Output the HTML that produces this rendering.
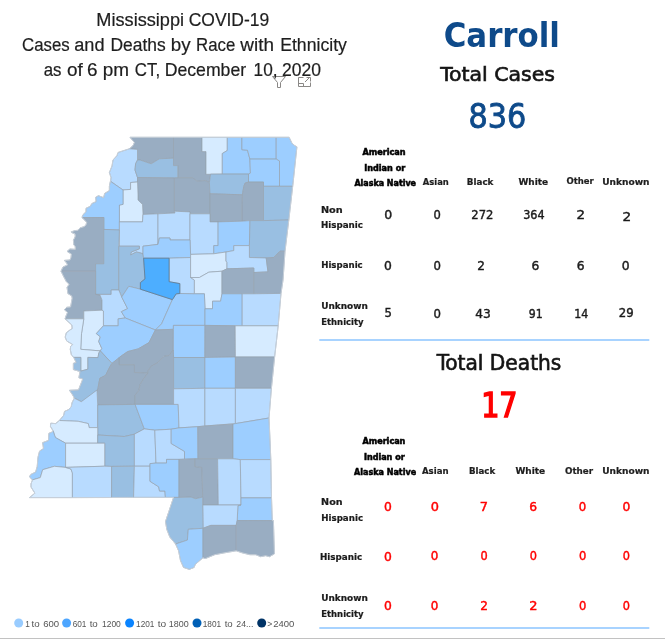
<!DOCTYPE html>
<html><head><meta charset="utf-8"><title>Mississippi COVID-19 Cases and Deaths by Race with Ethnicity</title>
<style>
html,body{margin:0;padding:0;background:#fff;}
body{width:665px;height:639px;overflow:hidden;}
svg{display:block;}
</style></head>
<body>
<svg width="665" height="639" viewBox="0 0 665 639">
<rect width="665" height="639" fill="#fff"/>
<g stroke="#97A3B0" stroke-width="0.7" stroke-linejoin="round">
<path d="M130.0 137.3 L173.5 137.3 L173.5 158.2 L159.4 158.8 L151.2 163.8 L140.0 160.0 L137.5 160.0 L137.5 149.4 L129.4 148.8 L133.0 145.6 L134.4 142.5 Z" fill="#99ADC2"/>
<path d="M173.5 137.3 L202.0 137.3 L202.0 151.6 L206.0 151.6 L206.0 174.3 L210.6 174.1 L209.4 182.5 L205.0 180.6 L197.0 181.3 L192.6 177.8 L177.8 177.8 L177.8 165.6 L173.5 165.6 L173.5 158.2 Z" fill="#99ADC2"/>
<path d="M202.0 137.3 L227.3 137.3 L227.3 150.5 L222.3 153.5 L222.3 174.1 L206.0 174.3 L206.0 151.6 L202.0 151.6 Z" fill="#D6EBFF"/>
<path d="M227.3 137.3 L241.9 137.3 L241.9 149.7 L247.5 150.2 L249.9 159.1 L250.4 173.2 L248.5 174.1 L222.3 174.1 L222.3 153.5 L227.3 150.5 Z" fill="#9DCEFF"/>
<path d="M241.9 137.3 L276.2 137.3 L276.2 159.1 L249.9 159.1 L247.5 150.2 L241.9 149.7 Z" fill="#9DCEFF"/>
<path d="M276.2 137.3 L289.1 137.3 L290.7 140.6 L291.9 143.1 L293.8 145.0 L296.9 146.9 L292.7 186.3 L279.5 186.3 L279.5 161.0 L276.2 159.1 Z" fill="#9DCEFF"/>
<path d="M249.9 159.1 L276.2 159.1 L279.5 161.0 L279.5 186.3 L263.5 186.3 L263.5 182.1 L248.5 182.1 L248.5 174.1 L250.4 173.2 Z" fill="#9DCEFF"/>
<path d="M118.0 152.5 L123.8 150.6 L129.4 148.8 L137.5 149.4 L137.5 160.0 L135.6 163.8 L135.0 170.0 L137.5 177.5 L137.5 182.0 L130.6 182.5 L130.6 189.4 L123.0 190.0 L110.6 181.2 L111.0 177.5 L109.4 172.5 L112.0 166.0 L113.0 160.0 L117.0 155.6 Z" fill="#B8DBFF"/>
<path d="M137.5 160.0 L140.0 160.0 L151.2 163.8 L159.4 158.8 L173.5 158.2 L173.5 165.6 L177.8 165.6 L177.8 177.8 L174.4 178.0 L137.5 177.5 L135.0 170.0 L135.6 163.8 Z" fill="#99BFE2"/>
<path d="M137.5 177.5 L174.4 178.0 L174.4 211.2 L175.0 213.0 L158.0 213.8 L143.0 214.4 L142.5 204.4 L138.0 200.0 L138.0 195.0 L137.5 182.0 Z" fill="#99ADC2"/>
<path d="M174.4 178.0 L177.8 177.8 L192.6 177.8 L197.0 181.3 L205.0 180.6 L209.4 182.5 L210.0 193.8 L210.0 213.8 L190.0 213.8 L190.0 211.9 L174.4 211.2 Z" fill="#99ADC2"/>
<path d="M210.6 174.1 L248.5 174.1 L248.5 182.1 L245.2 183.0 L243.8 186.3 L242.4 194.8 L210.0 193.8 L209.4 182.5 Z" fill="#99BFE2"/>
<path d="M245.2 183.0 L248.5 182.1 L263.5 182.1 L263.5 186.3 L263.5 220.6 L250.0 220.6 L241.9 221.2 L241.9 205.0 L242.4 194.8 L243.8 186.3 Z" fill="#99ADC2"/>
<path d="M263.5 186.3 L279.5 186.3 L292.7 186.3 L288.8 220.0 L263.5 220.6 Z" fill="#99BFE2"/>
<path d="M210.0 193.8 L242.4 194.8 L241.9 205.0 L241.9 221.2 L218.1 221.9 L210.0 221.9 L210.0 213.8 Z" fill="#99ADC2"/>
<path d="M123.0 190.0 L130.6 189.4 L130.6 182.5 L137.5 182.0 L138.0 195.0 L138.0 200.0 L142.5 204.4 L143.0 214.4 L142.5 221.9 L119.4 221.9 L119.4 205.0 L123.0 204.4 Z" fill="#D6EBFF"/>
<path d="M110.4 181.3 L123.0 190.0 L123.0 204.4 L119.4 205.0 L119.4 230.0 L103.8 229.4 L103.8 217.5 L82.0 217.6 L82.8 214.9 L86.0 211.8 L86.0 208.3 L90.3 206.3 L91.8 203.6 L96.1 201.6 L95.7 197.3 L98.5 195.7 L103.6 197.7 L104.7 193.4 L109.4 190.6 L109.4 186.0 Z" fill="#9DCEFF"/>
<path d="M119.4 221.9 L142.5 221.9 L143.0 214.4 L158.0 213.8 L158.0 244.4 L143.0 246.2 L143.0 253.8 L138.8 252.5 L136.2 252.0 L130.6 255.0 L131.2 252.0 L139.4 248.8 L139.4 246.2 L119.4 246.2 Z" fill="#B8DBFF"/>
<path d="M158.0 213.8 L175.0 213.0 L174.4 211.2 L190.0 211.9 L190.0 213.8 L190.0 240.0 L170.0 240.0 L170.0 238.0 L159.4 238.0 L158.0 244.4 Z" fill="#B8DBFF"/>
<path d="M190.0 213.8 L210.0 213.8 L210.0 221.9 L218.1 221.9 L218.1 245.6 L213.8 245.6 L213.8 253.8 L190.6 254.4 L190.0 240.0 Z" fill="#B8DBFF"/>
<path d="M218.1 221.9 L241.9 221.2 L250.0 220.6 L249.4 245.6 L233.8 245.6 L233.8 250.6 L226.0 252.0 L213.8 253.8 L213.8 245.6 L218.1 245.6 Z" fill="#9DCEFF"/>
<path d="M250.0 220.6 L263.5 220.6 L288.8 220.0 L285.0 251.2 L280.0 251.2 L273.8 257.5 L266.2 258.0 L249.4 257.5 L249.4 245.6 Z" fill="#99BFE2"/>
<path d="M82.0 217.6 L103.8 217.5 L103.8 263.8 L95.6 263.8 L95.6 271.2 L61.0 271.2 L63.0 267.0 L67.5 265.0 L66.7 263.1 L64.4 260.4 L69.9 260.0 L71.0 257.6 L71.4 254.1 L67.1 251.4 L69.9 249.0 L75.3 249.4 L75.3 246.7 L73.8 244.7 L73.4 240.0 L74.6 238.1 L75.3 236.1 L75.0 233.8 L71.8 232.6 L71.4 231.8 L75.0 230.6 L78.1 230.3 L80.0 227.9 L84.0 226.7 L85.9 225.2 L86.7 222.4 L84.7 220.1 Z" fill="#99ADC2"/>
<path d="M103.8 229.4 L119.4 230.0 L118.8 246.2 L118.8 290.0 L111.2 290.0 L111.2 294.4 L95.6 294.4 L95.6 263.8 L103.8 263.8 Z" fill="#99BFE2"/>
<path d="M118.8 246.2 L139.4 246.2 L139.4 248.8 L131.2 252.0 L130.6 255.0 L136.2 252.0 L138.8 252.5 L143.0 253.8 L143.6 258.2 L145.0 278.9 L140.4 282.6 L140.4 289.2 L128.8 286.3 L121.7 297.0 L118.8 290.0 Z" fill="#99BFE2"/>
<path d="M143.0 246.2 L158.0 244.4 L159.4 238.0 L170.0 238.0 L170.0 240.0 L190.0 240.0 L190.6 254.4 L190.6 257.5 L169.1 258.2 L143.6 258.2 L143.0 253.8 Z" fill="#9DCEFF"/>
<path d="M169.1 258.2 L190.6 257.5 L190.6 277.5 L194.4 280.0 L194.4 293.8 L179.8 293.5 L179.8 283.6 L169.1 281.7 Z" fill="#B8DBFF"/>
<path d="M190.6 254.4 L213.8 253.8 L226.0 252.0 L226.0 261.0 L227.0 262.5 L227.0 268.8 L222.0 271.2 L208.8 272.2 L199.4 277.5 L190.6 277.5 Z" fill="#D6EBFF"/>
<path d="M190.6 277.5 L199.4 277.5 L208.8 272.2 L222.0 271.2 L222.0 293.8 L220.6 301.2 L212.5 301.2 L212.5 308.8 L205.0 308.8 L204.4 293.8 L194.4 293.8 L194.4 280.0 Z" fill="#D6EBFF"/>
<path d="M226.0 252.0 L233.8 250.6 L233.8 245.6 L249.4 245.6 L249.4 257.5 L266.2 258.0 L268.0 271.9 L253.8 272.5 L253.8 268.0 L227.0 268.8 L227.0 262.5 L226.0 261.0 Z" fill="#B8DBFF"/>
<path d="M222.0 271.2 L227.0 268.8 L253.8 268.0 L253.8 272.5 L253.8 293.8 L222.0 293.8 Z" fill="#99ADC2"/>
<path d="M266.2 258.0 L273.8 257.5 L280.0 251.2 L285.0 251.2 L283.0 280.0 L281.0 293.4 L253.8 293.8 L253.8 272.5 L268.0 271.9 Z" fill="#99ADC2"/>
<path d="M61.0 271.2 L95.6 271.2 L95.6 294.4 L100.0 295.0 L102.0 300.0 L102.0 310.2 L83.8 311.0 L83.8 318.8 L65.0 318.8 L66.0 316.0 L67.5 312.5 L64.4 309.7 L66.7 307.3 L70.6 307.0 L72.2 298.3 L71.8 296.0 L67.9 293.6 L67.1 287.4 L69.1 284.3 L66.3 281.5 L63.6 276.4 Z" fill="#99ADC2"/>
<path d="M95.6 294.4 L111.2 294.4 L111.2 290.0 L118.8 290.0 L121.7 297.0 L127.6 308.6 L121.4 311.7 L125.3 318.0 L118.2 318.8 L118.2 325.8 L103.4 325.8 L103.4 311.0 L102.0 310.2 L102.0 300.0 L100.0 295.0 Z" fill="#B8DBFF"/>
<path d="M121.7 297.0 L128.8 286.3 L140.4 289.2 L172.4 299.6 L161.6 323.8 L155.4 330.0 L125.3 318.0 L121.4 311.7 L127.6 308.6 Z" fill="#9DCEFF"/>
<path d="M172.4 299.6 L176.2 293.8 L179.8 293.5 L194.4 293.8 L204.4 293.8 L205.0 308.8 L205.0 325.4 L173.4 325.4 L173.4 329.3 L155.4 330.0 L161.6 323.8 Z" fill="#9DCEFF"/>
<path d="M205.0 308.8 L212.5 308.8 L212.5 301.2 L220.6 301.2 L222.0 293.8 L242.2 293.8 L242.2 325.8 L205.0 325.4 Z" fill="#9DCEFF"/>
<path d="M242.2 293.8 L253.8 293.8 L281.0 293.4 L278.2 325.8 L242.2 325.8 Z" fill="#B8DBFF"/>
<path d="M83.8 311.0 L102.0 310.2 L103.4 311.0 L103.4 325.8 L96.3 333.6 L100.3 336.8 L98.7 341.5 L101.8 348.5 L100.3 350.9 L80.7 349.3 L81.5 333.6 L83.8 318.8 Z" fill="#D6EBFF"/>
<path d="M65.0 318.8 L83.8 318.8 L81.5 333.6 L80.7 349.3 L100.3 350.9 L98.8 353.0 L98.0 357.6 L87.9 357.4 L87.9 369.2 L80.8 371.1 L80.8 357.4 L73.8 357.4 L71.4 355.0 L70.3 349.6 L70.6 346.5 L72.6 344.5 L70.6 343.3 L66.7 341.0 L65.2 337.1 L66.3 332.8 L69.9 330.0 L72.2 328.5 L71.8 325.0 Z" fill="#D6EBFF"/>
<path d="M103.4 325.8 L118.2 325.8 L118.2 318.8 L125.3 318.0 L155.4 330.0 L149.0 342.6 L138.2 348.9 L127.6 351.6 L119.8 357.0 L119.0 358.0 L112.0 363.4 L100.3 350.9 L101.8 348.5 L98.7 341.5 L100.3 336.8 L96.3 333.6 Z" fill="#9DCEFF"/>
<path d="M155.4 330.0 L173.4 329.3 L173.2 350.0 L168.9 355.6 L164.0 356.3 L157.7 362.7 L151.3 366.2 L147.8 371.1 L147.8 373.2 L134.4 372.5 L134.4 364.8 L119.0 364.8 L119.0 357.7 L119.8 357.0 L127.6 351.6 L138.2 348.9 L149.0 342.6 Z" fill="#99ADC2"/>
<path d="M173.4 325.4 L205.0 325.4 L204.9 357.5 L173.6 357.5 L173.4 354.3 L173.4 329.3 Z" fill="#9DCEFF"/>
<path d="M205.0 325.4 L235.2 325.8 L235.4 357.0 L204.9 357.5 Z" fill="#99ADC2"/>
<path d="M235.2 325.8 L278.2 325.8 L274.6 357.0 L235.4 357.0 Z" fill="#D6EBFF"/>
<path d="M73.8 357.4 L80.8 357.4 L80.8 371.1 L87.9 369.2 L87.9 357.4 L98.0 357.6 L98.8 353.0 L100.3 350.9 L111.9 363.4 L109.0 368.3 L105.6 375.4 L99.9 378.2 L98.5 385.2 L97.9 389.2 L97.6 389.9 L84.7 400.0 L81.3 401.7 L74.3 398.1 L72.7 395.0 L69.5 390.3 L78.5 389.9 L82.8 379.0 L78.9 377.8 L80.0 371.5 L73.4 369.6 L73.4 363.3 L76.1 362.5 Z" fill="#99BFE2"/>
<path d="M97.0 390.0 L97.9 389.2 L98.5 385.2 L99.9 378.2 L105.6 375.4 L109.0 368.3 L111.9 363.4 L119.0 357.7 L119.0 364.8 L134.4 364.8 L134.4 372.5 L147.8 373.2 L143.6 378.9 L140.1 384.5 L138.7 390.8 L135.1 395.1 L135.1 404.4 L97.7 404.9 Z" fill="#99ADC2"/>
<path d="M147.8 371.1 L151.3 366.2 L157.7 362.7 L164.0 356.3 L168.9 355.6 L173.2 350.0 L173.6 357.5 L173.6 388.8 L173.6 404.4 L135.1 404.4 L135.1 395.1 L138.7 390.8 L140.1 384.5 L143.6 378.9 L147.8 373.2 Z" fill="#99ADC2"/>
<path d="M173.6 357.5 L204.9 357.5 L204.9 388.3 L173.6 388.8 Z" fill="#99BFE2"/>
<path d="M204.9 357.5 L235.4 357.0 L235.4 388.3 L204.9 388.3 Z" fill="#9DCEFF"/>
<path d="M235.4 357.0 L274.6 357.0 L271.4 388.3 L235.4 388.3 Z" fill="#99ADC2"/>
<path d="M74.3 398.1 L81.3 401.7 L97.0 390.0 L97.7 404.9 L97.7 427.6 L89.1 427.6 L88.3 423.6 L78.2 421.3 L59.4 420.5 L63.7 415.3 L64.5 411.4 L68.8 409.5 L71.2 406.7 L72.0 402.8 Z" fill="#B8DBFF"/>
<path d="M97.7 404.9 L135.1 404.4 L144.3 428.9 L134.4 434.2 L124.3 436.5 L97.7 435.0 Z" fill="#99BFE2"/>
<path d="M135.1 404.4 L178.2 404.4 L179.0 427.9 L171.2 429.2 L154.8 430.2 L144.3 428.9 Z" fill="#9DCEFF"/>
<path d="M173.6 388.8 L204.9 388.3 L204.9 426.0 L197.8 426.7 L179.0 427.9 L178.2 404.4 L173.6 404.4 Z" fill="#B8DBFF"/>
<path d="M204.9 388.3 L235.4 388.3 L235.4 423.6 L204.9 426.0 Z" fill="#B8DBFF"/>
<path d="M235.4 388.3 L271.4 388.3 L269.0 418.0 L235.4 423.6 Z" fill="#B8DBFF"/>
<path d="M59.4 420.5 L78.2 421.3 L88.3 423.6 L89.1 427.6 L97.7 427.6 L97.7 435.0 L97.7 443.2 L65.6 443.2 L55.5 437.6 L54.7 435.7 L53.2 431.0 L50.4 426.3 L50.8 423.2 L55.5 423.6 Z" fill="#D6EBFF"/>
<path d="M97.7 435.0 L124.3 436.5 L134.4 434.2 L134.4 466.2 L111.6 466.4 L104.7 466.2 L104.7 443.2 L97.7 443.2 Z" fill="#99BFE2"/>
<path d="M134.4 434.2 L144.3 428.9 L154.8 430.2 L156.0 463.1 L150.0 463.6 L150.0 466.2 L134.4 466.2 Z" fill="#B8DBFF"/>
<path d="M154.8 430.2 L171.2 429.2 L171.2 443.5 L184.5 451.4 L184.5 459.2 L179.0 459.4 L166.5 459.4 L166.5 463.1 L156.0 463.1 Z" fill="#B8DBFF"/>
<path d="M171.2 429.2 L179.0 427.9 L197.8 426.7 L198.0 458.8 L194.9 458.8 L184.5 459.2 L184.5 451.4 L171.2 443.5 Z" fill="#9DCEFF"/>
<path d="M197.8 426.7 L204.9 426.0 L233.0 424.0 L233.0 458.8 L217.6 458.8 L198.0 458.8 Z" fill="#99ADC2"/>
<path d="M233.0 424.0 L235.4 423.6 L269.0 418.0 L270.0 440.0 L270.8 459.6 L240.3 459.6 L233.0 458.8 Z" fill="#9DCEFF"/>
<path d="M53.2 431.0 L54.7 435.7 L55.5 437.6 L65.6 443.2 L65.6 467.4 L54.4 466.3 L42.7 469.7 L40.3 477.6 L32.5 479.9 L29.4 476.8 L30.9 474.4 L35.6 472.1 L37.2 466.6 L38.0 457.2 L39.6 451.0 L43.5 448.6 L43.0 445.0 L42.6 442.7 L48.5 440.4 L48.9 433.3 L51.6 432.2 Z" fill="#9DCEFF"/>
<path d="M65.6 443.2 L104.7 443.2 L104.7 466.2 L65.6 467.4 Z" fill="#D6EBFF"/>
<path d="M32.5 479.9 L40.3 477.6 L42.7 469.7 L54.4 466.3 L65.6 467.4 L70.9 469.0 L72.4 472.9 L72.4 497.6 L29.4 497.6 L34.9 493.2 L31.0 487.0 L31.0 483.8 Z" fill="#D6EBFF"/>
<path d="M65.6 467.4 L104.7 466.2 L111.6 466.4 L111.6 497.5 L72.4 497.6 L72.4 472.9 L70.9 469.0 Z" fill="#B8DBFF"/>
<path d="M111.6 466.4 L134.4 466.2 L133.6 497.4 L111.6 497.5 Z" fill="#99BFE2"/>
<path d="M134.4 466.2 L150.0 466.2 L150.0 481.3 L158.7 486.8 L159.5 491.0 L164.9 491.0 L165.4 497.4 L133.6 497.4 Z" fill="#B8DBFF"/>
<path d="M150.0 463.6 L156.0 463.1 L166.5 463.1 L166.5 459.4 L179.0 459.4 L179.0 497.4 L173.6 497.4 L165.4 497.4 L164.9 491.0 L159.5 491.0 L158.7 486.8 L150.0 481.3 L150.0 466.2 Z" fill="#9DCEFF"/>
<path d="M179.0 459.4 L184.5 459.2 L194.9 458.8 L194.9 466.6 L201.9 467.4 L202.7 497.1 L195.6 498.7 L191.0 497.1 L179.0 497.4 Z" fill="#99ADC2"/>
<path d="M194.9 458.8 L198.0 458.8 L217.6 458.8 L218.3 505.0 L202.7 505.0 L202.7 497.1 L201.9 467.4 L194.9 466.6 Z" fill="#99ADC2"/>
<path d="M217.6 458.8 L233.0 458.8 L240.3 459.6 L241.0 505.0 L218.3 505.0 Z" fill="#B8DBFF"/>
<path d="M240.3 459.6 L270.8 459.6 L271.5 497.9 L241.0 497.9 Z" fill="#B8DBFF"/>
<path d="M241.0 497.9 L271.5 497.9 L272.3 520.6 L237.2 520.5 L237.9 505.7 L241.0 505.0 Z" fill="#9DCEFF"/>
<path d="M202.7 505.0 L218.3 505.0 L241.0 505.0 L237.9 505.7 L237.2 520.5 L236.2 525.4 L210.8 525.4 L203.0 528.3 Z" fill="#B8DBFF"/>
<path d="M173.6 497.4 L179.0 497.4 L191.0 497.1 L195.6 498.7 L202.7 497.1 L202.7 505.0 L203.0 528.3 L188.3 529.3 L187.4 540.1 L175.6 544.0 L169.8 537.1 L166.8 529.3 L165.5 521.5 L168.8 511.7 L172.7 500.0 Z" fill="#99BFE2"/>
<path d="M175.6 544.0 L187.4 540.1 L188.3 529.3 L203.0 528.3 L203.0 557.7 L195.2 564.5 L194.2 567.4 L189.3 569.4 L183.5 567.4 L180.5 560.6 L178.6 550.8 Z" fill="#9DCEFF"/>
<path d="M203.0 528.3 L210.8 525.4 L236.2 525.4 L236.2 550.8 L224.5 552.8 L214.7 554.7 L205.0 558.7 L203.0 557.7 Z" fill="#99ADC2"/>
<path d="M236.2 525.4 L237.2 520.5 L272.3 520.6 L273.4 520.5 L274.4 553.8 L269.5 556.7 L265.6 555.7 L260.7 556.7 L255.8 554.7 L249.9 554.7 L242.1 552.8 L236.2 550.8 Z" fill="#99ADC2"/>
</g>
<path d="M61.0 271.2 L63.6 276.4 L66.3 281.5 L69.1 284.3 L67.1 287.4 L67.9 293.6 L71.8 296.0 L72.2 298.3 L70.6 307.0 L66.7 307.3 L64.4 309.7 L67.5 312.5 L66.0 316.0 L65.0 318.8 L71.8 325.0 L72.2 328.5 L69.9 330.0 L66.3 332.8 L65.2 337.1 L66.7 341.0 L70.6 343.3 L72.6 344.5 L70.6 346.5 L70.3 349.6 L71.4 355.0 L73.8 357.4 L76.1 362.5 L73.4 363.3 L73.4 369.6 L80.0 371.5 L78.9 377.8 L82.8 379.0 L78.5 389.9 L69.5 390.3 L72.7 395.0 L74.3 398.1 L72.0 402.8 L71.2 406.7 L68.8 409.5 L64.5 411.4 L63.7 415.3 L59.4 420.5 L55.5 423.6 L50.8 423.2 L50.4 426.3 L53.2 431.0 L51.6 432.2 L48.9 433.3 L48.5 440.4 L42.6 442.7 L43.0 445.0 L43.5 448.6 L39.6 451.0 L38.0 457.2 L37.2 466.6 L35.6 472.1 L30.9 474.4 L29.4 476.8 L32.5 479.9 L31.0 483.8 L31.0 487.0 L34.9 493.2 L29.4 497.6 L72.4 497.6 L111.0 497.5 L111.6 497.5 L133.6 497.4 L173.6 497.4 L172.7 500.0 L168.8 511.7 L165.5 521.5 L166.8 529.3 L169.8 537.1 L175.6 544.0 L178.6 550.8 L180.5 560.6 L183.5 567.4 L189.3 569.4 L194.2 567.4 L195.2 564.5 L203.0 557.7 L205.0 558.7 L214.7 554.7 L224.5 552.8 L236.2 550.8 L242.1 552.8 L249.9 554.7 L255.8 554.7 L260.7 556.7 L265.6 555.7 L269.5 556.7 L274.4 553.8 L273.4 520.5 L272.3 520.6 L271.5 497.9 L270.8 459.6 L270.8 459.6 L270.8 459.6 L270.0 440.0 L269.0 418.0 L271.4 388.3 L274.6 357.0 L278.2 325.8 L278.2 325.8 L278.2 325.8 L281.0 293.4 L283.0 280.0 L285.0 251.2 L288.7 220.5 L288.8 220.0 L292.6 186.8 L292.7 186.3 L296.9 146.9 L293.8 145.0 L291.9 143.1 L290.7 140.6 L289.1 137.3 L130.0 137.3 L134.4 142.5 L133.0 145.6 L129.4 148.8 L123.8 150.6 L118.0 152.5 L117.0 155.6 L113.0 160.0 L112.0 166.0 L109.4 172.5 L111.0 177.5 L110.6 181.4 L110.4 181.3 L109.4 186.0 L109.4 190.6 L104.7 193.4 L103.6 197.7 L98.5 195.7 L95.7 197.3 L96.1 201.6 L91.8 203.6 L90.3 206.3 L86.0 208.3 L86.0 211.8 L82.8 214.9 L82.0 217.6 L84.7 220.1 L86.7 222.4 L85.9 225.2 L84.0 226.7 L80.0 227.9 L78.1 230.3 L75.0 230.6 L71.4 231.8 L71.8 232.6 L75.0 233.8 L75.3 236.1 L74.6 238.1 L73.4 240.0 L73.8 244.7 L75.3 246.7 L75.3 249.4 L69.9 249.0 L67.1 251.4 L71.4 254.1 L71.0 257.6 L69.9 260.0 L64.4 260.4 L66.7 263.1 L67.5 265.0 L63.0 267.0 Z" fill="none" stroke="#C9D2DC" stroke-width="0.9" stroke-linejoin="round"/>
<path d="M143.6 258.2 L169.1 258.2 L169.1 281.7 L179.8 283.6 L179.8 293.5 L176.2 293.8 L172.4 299.6 L140.4 289.2 L140.4 282.6 L145.0 278.9 Z" fill="#4DAEFF" stroke="#5F7B94" stroke-width="0.85" stroke-linejoin="round"/>
<g fill="none" stroke="#8A8886" stroke-width="1">
<path d="M272.5 76.5 H285.5 L280.5 82.5 V87.5 H277.5 V82.5 Z"/>
<path d="M298.5 77.5 V86.5 H310.5 V82.5 M298.5 77.5 H303.5 M298.5 83.5 H303.5 V86.5 M305 82 L310 77 M306.5 77.5 H310.5 V81.5"/>
</g>
<text transform="translate(96.31 25.70) scale(1.0160 1)" font-family='"Liberation Sans", Arial, sans-serif' font-weight="normal" font-size="17.88" fill="#1E1E1E" stroke="#1E1E1E" stroke-width="0.2">Mississippi</text>
<text transform="translate(188.71 25.70) scale(0.9764 1)" font-family='"Liberation Sans", Arial, sans-serif' font-weight="normal" font-size="17.88" fill="#1E1E1E" stroke="#1E1E1E" stroke-width="0.2">COVID-19</text>
<text transform="translate(22.01 50.60) scale(0.9400 1)" font-family='"Liberation Sans", Arial, sans-serif' font-weight="normal" font-size="17.88" fill="#1E1E1E" stroke="#1E1E1E" stroke-width="0.2">Cases</text>
<text transform="translate(74.24 50.60) scale(1.0170 1)" font-family='"Liberation Sans", Arial, sans-serif' font-weight="normal" font-size="17.88" fill="#1E1E1E" stroke="#1E1E1E" stroke-width="0.2">and</text>
<text transform="translate(110.47 50.60) scale(0.9757 1)" font-family='"Liberation Sans", Arial, sans-serif' font-weight="normal" font-size="17.88" fill="#1E1E1E" stroke="#1E1E1E" stroke-width="0.2">Deaths</text>
<text transform="translate(170.78 50.60) scale(1.0520 1)" font-family='"Liberation Sans", Arial, sans-serif' font-weight="normal" font-size="17.88" fill="#1E1E1E" stroke="#1E1E1E" stroke-width="0.2">by</text>
<text transform="translate(196.02 50.60) scale(0.9400 1)" font-family='"Liberation Sans", Arial, sans-serif' font-weight="normal" font-size="17.88" fill="#1E1E1E" stroke="#1E1E1E" stroke-width="0.2">Race</text>
<text transform="translate(240.33 50.60) scale(1.0600 1)" font-family='"Liberation Sans", Arial, sans-serif' font-weight="normal" font-size="17.88" fill="#1E1E1E" stroke="#1E1E1E" stroke-width="0.2">with</text>
<text transform="translate(280.15 50.60) scale(0.9885 1)" font-family='"Liberation Sans", Arial, sans-serif' font-weight="normal" font-size="17.88" fill="#1E1E1E" stroke="#1E1E1E" stroke-width="0.2">Ethnicity</text>
<text transform="translate(43.63 75.70) scale(0.9400 1)" font-family='"Liberation Sans", Arial, sans-serif' font-weight="normal" font-size="17.88" fill="#1E1E1E" stroke="#1E1E1E" stroke-width="0.2">as</text>
<text transform="translate(66.89 75.70) scale(1.0600 1)" font-family='"Liberation Sans", Arial, sans-serif' font-weight="normal" font-size="17.88" fill="#1E1E1E" stroke="#1E1E1E" stroke-width="0.2">of</text>
<text transform="translate(87.12 75.70) scale(1.0600 1)" font-family='"Liberation Sans", Arial, sans-serif' font-weight="normal" font-size="17.88" fill="#1E1E1E" stroke="#1E1E1E" stroke-width="0.2">6</text>
<text transform="translate(102.81 75.70) scale(1.0600 1)" font-family='"Liberation Sans", Arial, sans-serif' font-weight="normal" font-size="17.88" fill="#1E1E1E" stroke="#1E1E1E" stroke-width="0.2">pm</text>
<text transform="translate(134.87 75.70) scale(0.9400 1)" font-family='"Liberation Sans", Arial, sans-serif' font-weight="normal" font-size="17.88" fill="#1E1E1E" stroke="#1E1E1E" stroke-width="0.2">CT,</text>
<text transform="translate(164.75 75.70) scale(0.9876 1)" font-family='"Liberation Sans", Arial, sans-serif' font-weight="normal" font-size="17.88" fill="#1E1E1E" stroke="#1E1E1E" stroke-width="0.2">December</text>
<text transform="translate(253.59 75.70) scale(0.9642 1)" font-family='"Liberation Sans", Arial, sans-serif' font-weight="normal" font-size="17.88" fill="#1E1E1E" stroke="#1E1E1E" stroke-width="0.2">10,</text>
<text transform="translate(282.12 75.70) scale(0.9798 1)" font-family='"Liberation Sans", Arial, sans-serif' font-weight="normal" font-size="17.88" fill="#1E1E1E" stroke="#1E1E1E" stroke-width="0.2">2020</text>
<text transform="translate(443.66 46.80) scale(1.0339 1)" font-family='"DejaVu Sans Condensed", "DejaVu Sans", sans-serif' font-weight="bold" font-size="33.20" fill="#0E4A8A" font-stretch="condensed">Carroll</text>
<text transform="translate(440.35 80.90) scale(1.1205 1)" font-family='"DejaVu Sans Condensed", "DejaVu Sans", sans-serif' font-weight="normal" font-size="20.30" fill="#141414" font-stretch="condensed" stroke="#141414" stroke-width="0.6">Total Cases</text>
<text transform="translate(468.55 128.00) scale(1.0225 1)" font-family='"DejaVu Sans Condensed", "DejaVu Sans", sans-serif' font-weight="normal" font-size="32.88" fill="#0E4A8A" font-stretch="condensed" stroke="#0E4A8A" stroke-width="0.8">836</text>
<text transform="translate(436.74 369.70) scale(1.0622 1)" font-family='"DejaVu Sans Condensed", "DejaVu Sans", sans-serif' font-weight="normal" font-size="21.12" fill="#141414" font-stretch="condensed" stroke="#141414" stroke-width="0.6">Total Deaths</text>
<text transform="translate(481.15 416.90) scale(0.9655 1)" font-family='"DejaVu Sans Condensed", "DejaVu Sans", sans-serif' font-weight="normal" font-size="32.92" fill="#FF0000" font-stretch="condensed" stroke="#FF0000" stroke-width="1.4">17</text>
<text transform="translate(362.40 154.75) scale(1.0830 1)" font-family='"DejaVu Sans Condensed", "DejaVu Sans", sans-serif' font-weight="bold" font-size="8.37" fill="#000000" font-stretch="condensed" stroke="#000000" stroke-width="0.5">American</text>
<text transform="translate(364.20 170.75) scale(1.0446 1)" font-family='"DejaVu Sans Condensed", "DejaVu Sans", sans-serif' font-weight="bold" font-size="8.64" fill="#000000" font-stretch="condensed" stroke="#000000" stroke-width="0.5">Indian or</text>
<text transform="translate(354.41 185.75) scale(0.9947 1)" font-family='"DejaVu Sans Condensed", "DejaVu Sans", sans-serif' font-weight="bold" font-size="8.92" fill="#000000" font-stretch="condensed" stroke="#000000" stroke-width="0.5">Alaska Native</text>
<text transform="translate(422.85 184.90) scale(1.0150 1)" font-family='"DejaVu Sans Condensed", "DejaVu Sans", sans-serif' font-weight="bold" font-size="9.19" fill="#1E1E1E" font-stretch="condensed" stroke="#1E1E1E" stroke-width="0.2">Asian</text>
<text transform="translate(466.79 184.90) scale(1.0455 1)" font-family='"DejaVu Sans Condensed", "DejaVu Sans", sans-serif' font-weight="bold" font-size="9.33" fill="#1E1E1E" font-stretch="condensed" stroke="#1E1E1E" stroke-width="0.2">Black</text>
<text transform="translate(518.43 184.90) scale(1.0676 1)" font-family='"DejaVu Sans Condensed", "DejaVu Sans", sans-serif' font-weight="bold" font-size="9.33" fill="#1E1E1E" font-stretch="condensed" stroke="#1E1E1E" stroke-width="0.2">White</text>
<text transform="translate(566.48 183.90) scale(1.0290 1)" font-family='"DejaVu Sans Condensed", "DejaVu Sans", sans-serif' font-weight="bold" font-size="9.16" fill="#1E1E1E" font-stretch="condensed" stroke="#1E1E1E" stroke-width="0.2">Other</text>
<text transform="translate(602.16 184.90) scale(1.0801 1)" font-family='"DejaVu Sans Condensed", "DejaVu Sans", sans-serif' font-weight="bold" font-size="9.33" fill="#1E1E1E" font-stretch="condensed" stroke="#1E1E1E" stroke-width="0.2">Unknown</text>
<text transform="translate(320.90 212.90) scale(1.1949 1)" font-family='"DejaVu Sans Condensed", "DejaVu Sans", sans-serif' font-weight="bold" font-size="9.05" fill="#1B1B1B" font-stretch="condensed" stroke="#1B1B1B" stroke-width="0.2">Non</text>
<text transform="translate(320.99 227.90) scale(1.0739 1)" font-family='"DejaVu Sans Condensed", "DejaVu Sans", sans-serif' font-weight="bold" font-size="9.05" fill="#1B1B1B" font-stretch="condensed" stroke="#1B1B1B" stroke-width="0.2">Hispanic</text>
<text transform="translate(321.20 267.90) scale(1.0607 1)" font-family='"DejaVu Sans Condensed", "DejaVu Sans", sans-serif' font-weight="bold" font-size="9.05" fill="#1B1B1B" font-stretch="condensed" stroke="#1B1B1B" stroke-width="0.2">Hispanic</text>
<text transform="translate(321.17 308.90) scale(1.1007 1)" font-family='"DejaVu Sans Condensed", "DejaVu Sans", sans-serif' font-weight="bold" font-size="9.05" fill="#1B1B1B" font-stretch="condensed" stroke="#1B1B1B" stroke-width="0.2">Unknown</text>
<text transform="translate(321.22 324.90) scale(1.0434 1)" font-family='"DejaVu Sans Condensed", "DejaVu Sans", sans-serif' font-weight="bold" font-size="9.05" fill="#1B1B1B" font-stretch="condensed" stroke="#1B1B1B" stroke-width="0.2">Ethnicity</text>
<text transform="translate(362.51 443.75) scale(1.0728 1)" font-family='"DejaVu Sans Condensed", "DejaVu Sans", sans-serif' font-weight="bold" font-size="8.37" fill="#000000" font-stretch="condensed" stroke="#000000" stroke-width="0.5">American</text>
<text transform="translate(363.90 459.75) scale(1.0395 1)" font-family='"DejaVu Sans Condensed", "DejaVu Sans", sans-serif' font-weight="bold" font-size="8.64" fill="#000000" font-stretch="condensed" stroke="#000000" stroke-width="0.5">Indian or</text>
<text transform="translate(354.11 474.75) scale(0.9995 1)" font-family='"DejaVu Sans Condensed", "DejaVu Sans", sans-serif' font-weight="bold" font-size="8.92" fill="#000000" font-stretch="condensed" stroke="#000000" stroke-width="0.5">Alaska Native</text>
<text transform="translate(421.95 473.90) scale(1.0391 1)" font-family='"DejaVu Sans Condensed", "DejaVu Sans", sans-serif' font-weight="bold" font-size="9.19" fill="#1E1E1E" font-stretch="condensed" stroke="#1E1E1E" stroke-width="0.2">Asian</text>
<text transform="translate(468.90 473.90) scale(1.0335 1)" font-family='"DejaVu Sans Condensed", "DejaVu Sans", sans-serif' font-weight="bold" font-size="9.33" fill="#1E1E1E" font-stretch="condensed" stroke="#1E1E1E" stroke-width="0.2">Black</text>
<text transform="translate(515.43 473.90) scale(1.0676 1)" font-family='"DejaVu Sans Condensed", "DejaVu Sans", sans-serif' font-weight="bold" font-size="9.33" fill="#1E1E1E" font-stretch="condensed" stroke="#1E1E1E" stroke-width="0.2">White</text>
<text transform="translate(564.96 473.90) scale(1.0635 1)" font-family='"DejaVu Sans Condensed", "DejaVu Sans", sans-serif' font-weight="bold" font-size="9.16" fill="#1E1E1E" font-stretch="condensed" stroke="#1E1E1E" stroke-width="0.2">Other</text>
<text transform="translate(602.16 473.90) scale(1.0801 1)" font-family='"DejaVu Sans Condensed", "DejaVu Sans", sans-serif' font-weight="bold" font-size="9.33" fill="#1E1E1E" font-stretch="condensed" stroke="#1E1E1E" stroke-width="0.2">Unknown</text>
<text transform="translate(321.12 504.90) scale(1.1771 1)" font-family='"DejaVu Sans Condensed", "DejaVu Sans", sans-serif' font-weight="bold" font-size="9.05" fill="#1B1B1B" font-stretch="condensed" stroke="#1B1B1B" stroke-width="0.2">Non</text>
<text transform="translate(321.20 520.90) scale(1.0687 1)" font-family='"DejaVu Sans Condensed", "DejaVu Sans", sans-serif' font-weight="bold" font-size="9.05" fill="#1B1B1B" font-stretch="condensed" stroke="#1B1B1B" stroke-width="0.2">Hispanic</text>
<text transform="translate(319.89 559.90) scale(1.0819 1)" font-family='"DejaVu Sans Condensed", "DejaVu Sans", sans-serif' font-weight="bold" font-size="9.05" fill="#1B1B1B" font-stretch="condensed" stroke="#1B1B1B" stroke-width="0.2">Hispanic</text>
<text transform="translate(321.17 600.90) scale(1.1007 1)" font-family='"DejaVu Sans Condensed", "DejaVu Sans", sans-serif' font-weight="bold" font-size="9.05" fill="#1B1B1B" font-stretch="condensed" stroke="#1B1B1B" stroke-width="0.2">Unknown</text>
<text transform="translate(321.22 616.90) scale(1.0434 1)" font-family='"DejaVu Sans Condensed", "DejaVu Sans", sans-serif' font-weight="bold" font-size="9.05" fill="#1B1B1B" font-stretch="condensed" stroke="#1B1B1B" stroke-width="0.2">Ethnicity</text>
<text transform="translate(384.17 218.80) scale(1.1096 1)" font-family='"DejaVu Sans Condensed", "DejaVu Sans", sans-serif' font-weight="normal" font-size="12.53" fill="#1A1A1A" font-stretch="condensed" stroke="#1A1A1A" stroke-width="0.4">0</text>
<text transform="translate(433.43 218.80) scale(1.0215 1)" font-family='"DejaVu Sans Condensed", "DejaVu Sans", sans-serif' font-weight="normal" font-size="12.53" fill="#1A1A1A" font-stretch="condensed" stroke="#1A1A1A" stroke-width="0.4">0</text>
<text transform="translate(471.35 218.80) scale(1.0273 1)" font-family='"DejaVu Sans Condensed", "DejaVu Sans", sans-serif' font-weight="normal" font-size="12.53" fill="#1A1A1A" font-stretch="condensed" stroke="#1A1A1A" stroke-width="0.4">272</text>
<text transform="translate(523.15 218.80) scale(0.9979 1)" font-family='"DejaVu Sans Condensed", "DejaVu Sans", sans-serif' font-weight="normal" font-size="12.53" fill="#1A1A1A" font-stretch="condensed" stroke="#1A1A1A" stroke-width="0.4">364</text>
<text transform="translate(576.52 218.80) scale(1.1891 1)" font-family='"DejaVu Sans Condensed", "DejaVu Sans", sans-serif' font-weight="normal" font-size="12.53" fill="#1A1A1A" font-stretch="condensed" stroke="#1A1A1A" stroke-width="0.4">2</text>
<text transform="translate(622.50 220.80) scale(1.2083 1)" font-family='"DejaVu Sans Condensed", "DejaVu Sans", sans-serif' font-weight="normal" font-size="12.53" fill="#1A1A1A" font-stretch="condensed" stroke="#1A1A1A" stroke-width="0.4">2</text>
<text transform="translate(383.98 269.80) scale(1.0920 1)" font-family='"DejaVu Sans Condensed", "DejaVu Sans", sans-serif' font-weight="normal" font-size="12.53" fill="#1A1A1A" font-stretch="condensed" stroke="#1A1A1A" stroke-width="0.4">0</text>
<text transform="translate(433.42 269.80) scale(1.0391 1)" font-family='"DejaVu Sans Condensed", "DejaVu Sans", sans-serif' font-weight="normal" font-size="12.53" fill="#1A1A1A" font-stretch="condensed" stroke="#1A1A1A" stroke-width="0.4">0</text>
<text transform="translate(477.31 269.80) scale(1.0740 1)" font-family='"DejaVu Sans Condensed", "DejaVu Sans", sans-serif' font-weight="normal" font-size="12.53" fill="#1A1A1A" font-stretch="condensed" stroke="#1A1A1A" stroke-width="0.4">2</text>
<text transform="translate(531.54 269.80) scale(1.0920 1)" font-family='"DejaVu Sans Condensed", "DejaVu Sans", sans-serif' font-weight="normal" font-size="12.53" fill="#1A1A1A" font-stretch="condensed" stroke="#1A1A1A" stroke-width="0.4">6</text>
<text transform="translate(576.64 269.80) scale(1.0920 1)" font-family='"DejaVu Sans Condensed", "DejaVu Sans", sans-serif' font-weight="normal" font-size="12.53" fill="#1A1A1A" font-stretch="condensed" stroke="#1A1A1A" stroke-width="0.4">6</text>
<text transform="translate(621.78 269.80) scale(1.0920 1)" font-family='"DejaVu Sans Condensed", "DejaVu Sans", sans-serif' font-weight="normal" font-size="12.53" fill="#1A1A1A" font-stretch="condensed" stroke="#1A1A1A" stroke-width="0.4">0</text>
<text transform="translate(384.61 316.80) scale(1.0325 1)" font-family='"DejaVu Sans Condensed", "DejaVu Sans", sans-serif' font-weight="normal" font-size="12.53" fill="#1A1A1A" font-stretch="condensed" stroke="#1A1A1A" stroke-width="0.4">5</text>
<text transform="translate(433.42 317.80) scale(1.0391 1)" font-family='"DejaVu Sans Condensed", "DejaVu Sans", sans-serif' font-weight="normal" font-size="12.53" fill="#1A1A1A" font-stretch="condensed" stroke="#1A1A1A" stroke-width="0.4">0</text>
<text transform="translate(475.20 317.80) scale(1.0866 1)" font-family='"DejaVu Sans Condensed", "DejaVu Sans", sans-serif' font-weight="normal" font-size="12.53" fill="#1A1A1A" font-stretch="condensed" stroke="#1A1A1A" stroke-width="0.4">43</text>
<text transform="translate(528.71 317.80) scale(0.9685 1)" font-family='"DejaVu Sans Condensed", "DejaVu Sans", sans-serif' font-weight="normal" font-size="12.53" fill="#1A1A1A" font-stretch="condensed" stroke="#1A1A1A" stroke-width="0.4">91</text>
<text transform="translate(574.19 317.80) scale(0.9783 1)" font-family='"DejaVu Sans Condensed", "DejaVu Sans", sans-serif' font-weight="normal" font-size="12.53" fill="#1A1A1A" font-stretch="condensed" stroke="#1A1A1A" stroke-width="0.4">14</text>
<text transform="translate(618.74 316.80) scale(1.0376 1)" font-family='"DejaVu Sans Condensed", "DejaVu Sans", sans-serif' font-weight="normal" font-size="12.53" fill="#1A1A1A" font-stretch="condensed" stroke="#1A1A1A" stroke-width="0.4">29</text>
<text transform="translate(383.98 510.80) scale(1.0920 1)" font-family='"DejaVu Sans Condensed", "DejaVu Sans", sans-serif' font-weight="normal" font-size="12.53" fill="#FF0000" font-stretch="condensed" stroke="#FF0000" stroke-width="0.4">0</text>
<text transform="translate(430.74 510.80) scale(1.1448 1)" font-family='"DejaVu Sans Condensed", "DejaVu Sans", sans-serif' font-weight="normal" font-size="12.53" fill="#FF0000" font-stretch="condensed" stroke="#FF0000" stroke-width="0.4">0</text>
<text transform="translate(479.63 510.80) scale(1.1533 1)" font-family='"DejaVu Sans Condensed", "DejaVu Sans", sans-serif' font-weight="normal" font-size="12.53" fill="#FF0000" font-stretch="condensed" stroke="#FF0000" stroke-width="0.4">7</text>
<text transform="translate(529.14 510.80) scale(1.0920 1)" font-family='"DejaVu Sans Condensed", "DejaVu Sans", sans-serif' font-weight="normal" font-size="12.53" fill="#FF0000" font-stretch="condensed" stroke="#FF0000" stroke-width="0.4">6</text>
<text transform="translate(578.82 510.80) scale(1.0391 1)" font-family='"DejaVu Sans Condensed", "DejaVu Sans", sans-serif' font-weight="normal" font-size="12.53" fill="#FF0000" font-stretch="condensed" stroke="#FF0000" stroke-width="0.4">0</text>
<text transform="translate(622.38 510.80) scale(1.0920 1)" font-family='"DejaVu Sans Condensed", "DejaVu Sans", sans-serif' font-weight="normal" font-size="12.53" fill="#FF0000" font-stretch="condensed" stroke="#FF0000" stroke-width="0.4">0</text>
<text transform="translate(383.98 560.80) scale(1.0920 1)" font-family='"DejaVu Sans Condensed", "DejaVu Sans", sans-serif' font-weight="normal" font-size="12.53" fill="#FF0000" font-stretch="condensed" stroke="#FF0000" stroke-width="0.4">0</text>
<text transform="translate(430.81 559.80) scale(1.0568 1)" font-family='"DejaVu Sans Condensed", "DejaVu Sans", sans-serif' font-weight="normal" font-size="12.53" fill="#FF0000" font-stretch="condensed" stroke="#FF0000" stroke-width="0.4">0</text>
<text transform="translate(480.45 559.80) scale(1.0039 1)" font-family='"DejaVu Sans Condensed", "DejaVu Sans", sans-serif' font-weight="normal" font-size="12.53" fill="#FF0000" font-stretch="condensed" stroke="#FF0000" stroke-width="0.4">0</text>
<text transform="translate(529.75 559.80) scale(1.0039 1)" font-family='"DejaVu Sans Condensed", "DejaVu Sans", sans-serif' font-weight="normal" font-size="12.53" fill="#FF0000" font-stretch="condensed" stroke="#FF0000" stroke-width="0.4">0</text>
<text transform="translate(579.03 559.80) scale(1.0215 1)" font-family='"DejaVu Sans Condensed", "DejaVu Sans", sans-serif' font-weight="normal" font-size="12.53" fill="#FF0000" font-stretch="condensed" stroke="#FF0000" stroke-width="0.4">0</text>
<text transform="translate(622.85 559.80) scale(1.0039 1)" font-family='"DejaVu Sans Condensed", "DejaVu Sans", sans-serif' font-weight="normal" font-size="12.53" fill="#FF0000" font-stretch="condensed" stroke="#FF0000" stroke-width="0.4">0</text>
<text transform="translate(383.98 609.80) scale(1.0920 1)" font-family='"DejaVu Sans Condensed", "DejaVu Sans", sans-serif' font-weight="normal" font-size="12.53" fill="#FF0000" font-stretch="condensed" stroke="#FF0000" stroke-width="0.4">0</text>
<text transform="translate(430.81 609.80) scale(1.0568 1)" font-family='"DejaVu Sans Condensed", "DejaVu Sans", sans-serif' font-weight="normal" font-size="12.53" fill="#FF0000" font-stretch="condensed" stroke="#FF0000" stroke-width="0.4">0</text>
<text transform="translate(480.31 609.80) scale(1.0740 1)" font-family='"DejaVu Sans Condensed", "DejaVu Sans", sans-serif' font-weight="normal" font-size="12.53" fill="#FF0000" font-stretch="condensed" stroke="#FF0000" stroke-width="0.4">2</text>
<text transform="translate(529.25 609.80) scale(1.1507 1)" font-family='"DejaVu Sans Condensed", "DejaVu Sans", sans-serif' font-weight="normal" font-size="12.53" fill="#FF0000" font-stretch="condensed" stroke="#FF0000" stroke-width="0.4">2</text>
<text transform="translate(579.03 609.80) scale(1.0215 1)" font-family='"DejaVu Sans Condensed", "DejaVu Sans", sans-serif' font-weight="normal" font-size="12.53" fill="#FF0000" font-stretch="condensed" stroke="#FF0000" stroke-width="0.4">0</text>
<text transform="translate(622.85 609.80) scale(1.0039 1)" font-family='"DejaVu Sans Condensed", "DejaVu Sans", sans-serif' font-weight="normal" font-size="12.53" fill="#FF0000" font-stretch="condensed" stroke="#FF0000" stroke-width="0.4">0</text>
<circle cx="18.7" cy="623" r="4.5" fill="#99CCFF"/>
<circle cx="66.6" cy="623" r="4.5" fill="#4DA6FF"/>
<circle cx="129.6" cy="623" r="4.5" fill="#0A84FF"/>
<circle cx="197.0" cy="623" r="4.5" fill="#0060B6"/>
<circle cx="261.7" cy="623" r="4.5" fill="#003366"/>
<text transform="translate(25.29 627.00) scale(0.8500 1)" font-family='"Liberation Sans", Arial, sans-serif' font-weight="normal" font-size="9.74" fill="#555555">1</text>
<text transform="translate(31.45 627.00) scale(1.0044 1)" font-family='"Liberation Sans", Arial, sans-serif' font-weight="normal" font-size="9.74" fill="#555555">to</text>
<text transform="translate(43.21 627.00) scale(0.9826 1)" font-family='"Liberation Sans", Arial, sans-serif' font-weight="normal" font-size="9.74" fill="#555555">600</text>
<text transform="translate(72.69 627.00) scale(0.8500 1)" font-family='"Liberation Sans", Arial, sans-serif' font-weight="normal" font-size="9.74" fill="#555555">601</text>
<text transform="translate(89.65 627.00) scale(1.0044 1)" font-family='"Liberation Sans", Arial, sans-serif' font-weight="normal" font-size="9.74" fill="#555555">to</text>
<text transform="translate(101.95 627.00) scale(0.8715 1)" font-family='"Liberation Sans", Arial, sans-serif' font-weight="normal" font-size="9.74" fill="#555555">1200</text>
<text transform="translate(136.08 627.00) scale(0.8500 1)" font-family='"Liberation Sans", Arial, sans-serif' font-weight="normal" font-size="9.74" fill="#555555">1201</text>
<text transform="translate(157.75 627.00) scale(1.0440 1)" font-family='"Liberation Sans", Arial, sans-serif' font-weight="normal" font-size="9.74" fill="#555555">to</text>
<text transform="translate(168.82 627.00) scale(0.9202 1)" font-family='"Liberation Sans", Arial, sans-serif' font-weight="normal" font-size="9.74" fill="#555555">1800</text>
<text transform="translate(202.73 627.00) scale(0.8500 1)" font-family='"Liberation Sans", Arial, sans-serif' font-weight="normal" font-size="9.74" fill="#555555">1801</text>
<text transform="translate(224.66 627.00) scale(0.9912 1)" font-family='"Liberation Sans", Arial, sans-serif' font-weight="normal" font-size="9.74" fill="#555555">to</text>
<text transform="translate(236.36 627.00) scale(0.8989 1)" font-family='"Liberation Sans", Arial, sans-serif' font-weight="normal" font-size="9.74" fill="#555555">24...</text>
<text transform="translate(267.28 627.00) scale(0.8874 1)" font-family='"Liberation Sans", Arial, sans-serif' font-weight="normal" font-size="9.74" fill="#555555">&gt;</text>
<text transform="translate(273.22 627.00) scale(0.9764 1)" font-family='"Liberation Sans", Arial, sans-serif' font-weight="normal" font-size="9.74" fill="#555555">2400</text>
<rect x="319.3" y="339.1" width="330" height="1.8" fill="#9FCFFF"/>
<rect x="319.3" y="627.1" width="330" height="1.8" fill="#9FCFFF"/>
<rect x="0" y="638" width="665" height="1" fill="#C2C2C2"/>
</svg>
</body></html>
